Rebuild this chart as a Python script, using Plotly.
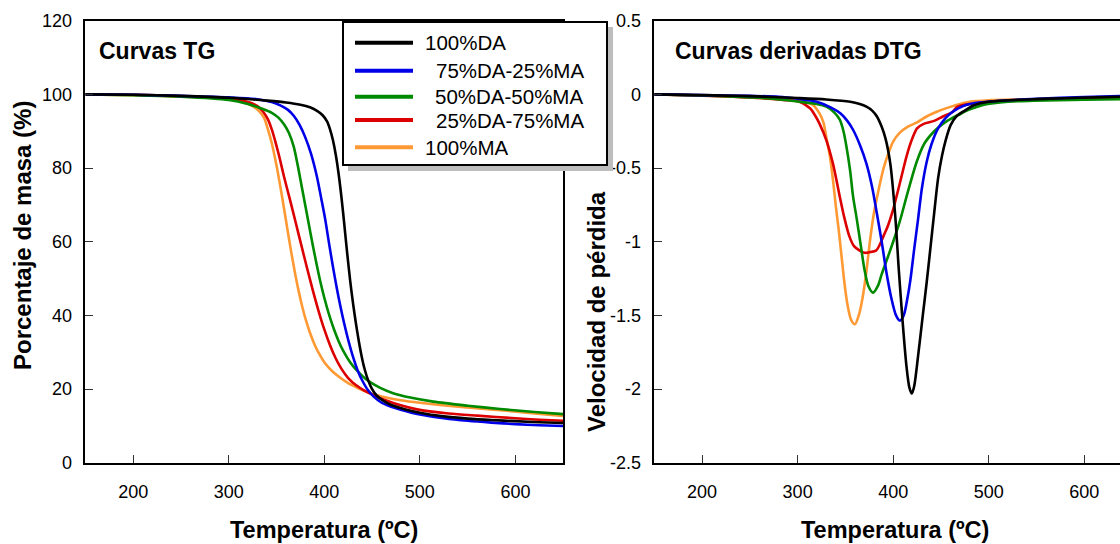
import plotly.graph_objects as go
from plotly.subplots import make_subplots

# ---------------- data ----------------
series_names = ["100%DA", "75%DA-25%MA", "50%DA-50%MA", "25%DA-75%MA", "100%MA"]
series_colors = ["#000000", "#0000e8", "#008a00", "#dd0000", "#ff9933"]

# TG curves: temperature (ºC) and mass percentage (%)
tg_t_da100 = [150, 200, 250, 300, 340, 360, 375, 385, 392, 398, 403, 406, 409, 412, 415, 418, 421,
              424, 427, 430, 433, 436, 439, 442, 446, 450, 455, 462, 470, 485, 500, 525, 550, 575,
              600, 625, 650]
tg_m_da100 = [100, 99.9, 99.6, 99.1, 98.3, 97.8, 97.2, 96.5, 95.6, 94.4, 92.6, 90.5, 87.6, 83.6, 78.4,
              72.0, 64.5, 56.8, 49.6, 43.4, 38.0, 33.2, 29.0, 25.6, 22.3, 20.0, 18.2, 16.8, 15.7,
              14.5, 13.6, 12.6, 12.0, 11.6, 11.3, 11.0, 10.8]

tg_t_da75 = [150, 200, 250, 300, 330, 345, 355, 362, 368, 374, 380, 386, 392, 397, 401, 405, 409,
             413, 417, 421, 425, 430, 435, 440, 446, 452, 460, 470, 480, 500, 525, 550, 575, 600,
             625, 650]
tg_m_da75 = [100, 99.9, 99.6, 99.2, 98.7, 97.9, 96.9, 95.8, 94.2, 91.8, 88.4, 84.0, 78.0, 71.5, 66,
             59.5, 53.3, 47.5, 42.3, 37.6, 33.4, 28.8, 25.0, 22.2, 19.6, 17.9, 16.3, 15.2, 14.4,
             13.1, 12.1, 11.4, 10.9, 10.5, 10.2, 10.0]

tg_t_da50 = [150, 200, 250, 300, 320, 335, 345, 352, 358, 363, 368, 372, 376, 380, 384, 388, 392,
             396, 400, 405, 410, 415, 420, 427, 435, 444, 458, 472, 490, 514, 550, 584, 620, 650]
tg_m_da50 = [100, 99.8, 99.4, 98.5, 97.4, 96.1, 95.0, 93.7, 91.8, 89.5, 85.8, 81.0, 75.5, 70.0, 64.5,
             59.0, 53.8, 49.0, 44.8, 40.2, 36.3, 33.0, 30.3, 27.3, 24.8, 22.6, 20.4, 18.9, 17.7, 16.6,
             15.5, 14.6, 13.8, 13.2]

tg_t_da25 = [150, 200, 250, 290, 310, 322, 330, 336, 341, 345, 349, 353, 358, 364, 370, 376, 382,
             388, 394, 400, 406, 412, 418, 425, 433, 442, 452, 462, 480, 497, 530, 560, 600, 625, 650]
tg_m_da25 = [100, 99.9, 99.5, 99.0, 98.5, 97.8, 96.8, 95.3, 93.2, 90.5, 87.0, 83.0, 77.5, 71.5, 65.3,
             59.0, 52.8, 46.8, 41.2, 36.2, 31.9, 28.3, 25.5, 23.0, 21.1, 19.6, 18.3, 17.2, 15.6, 14.5,
             13.4, 12.8, 12.1, 11.7, 11.4]

tg_t_ma100 = [150, 200, 250, 280, 300, 315, 325, 332, 337, 341, 345, 349, 353, 357, 361, 365, 369,
              373, 377, 381, 385, 390, 395, 400, 407, 415, 425, 435, 445, 460, 480, 500, 540, 584,
              620, 650]
tg_m_ma100 = [100, 99.8, 99.4, 99.1, 98.7, 97.9, 96.8, 95.4, 93.6, 90.5, 86.8, 82.0, 76.5, 70.4, 64.0,
              57.8, 52.0, 46.8, 42.3, 38.5, 35.3, 32.0, 29.4, 27.3, 25.2, 23.4, 21.6, 20.3, 19.2, 18.0,
              17.0, 16.3, 15.2, 14.3, 13.4, 12.7]

# DTG curves: temperature (ºC) and mass loss rate
dtg_t_da100 = [150, 200, 250, 300, 330, 355, 365, 372, 378, 383, 388, 392, 397, 402, 406, 410, 414,
               417, 419.5, 422, 426, 431, 435, 440, 443, 447, 451, 455, 460, 466, 475, 484, 500, 520,
               550, 580, 610, 638]
dtg_v_da100 = [0, -0.005, -0.012, -0.025, -0.035, -0.05, -0.065, -0.083, -0.11, -0.15, -0.22, -0.3,
               -0.47, -0.81, -1.2, -1.55, -1.85, -1.99, -2.03, -1.98, -1.78, -1.5, -1.28, -0.98, -0.8,
               -0.57, -0.42, -0.31, -0.21, -0.15, -0.11, -0.075, -0.05, -0.04, -0.032, -0.026, -0.02,
               -0.016]

dtg_t_da75 = [150, 200, 250, 280, 300, 320, 335, 345, 352, 358, 365, 372, 378, 383, 388, 393, 398,
              403, 407, 411, 415, 418, 422, 426, 430, 435, 440, 447, 455, 460, 468, 477, 490, 512,
              550, 600, 638]
dtg_v_da75 = [0, -0.005, -0.01, -0.016, -0.03, -0.05, -0.09, -0.13, -0.18, -0.24, -0.34, -0.47,
              -0.63, -0.81, -1.0, -1.21, -1.38, -1.5, -1.535, -1.5, -1.38, -1.26, -1.05, -0.85,
              -0.64, -0.46, -0.34, -0.23, -0.16, -0.13, -0.095, -0.07, -0.055, -0.043, -0.03,
              -0.018, -0.011]

dtg_t_da50 = [150, 200, 250, 268, 300, 320, 330, 338, 344, 348, 351, 355, 358, 362, 366, 370, 374,
              379, 384, 388, 393, 400, 407, 415, 425, 433, 443, 452, 462, 470, 477, 485, 494, 520,
              546, 600, 638]
dtg_v_da50 = [0, -0.008, -0.02, -0.026, -0.048, -0.065, -0.083, -0.12, -0.17, -0.25, -0.35, -0.52,
              -0.69, -0.85, -1.02, -1.19, -1.3, -1.345, -1.3, -1.22, -1.13, -1.0, -0.86, -0.67,
              -0.45, -0.33, -0.25, -0.2, -0.16, -0.135, -0.11, -0.09, -0.072, -0.05, -0.043,
              -0.036, -0.033]

dtg_t_da25 = [150, 200, 250, 285, 302, 313, 318, 323, 330, 337, 344, 349, 354, 359, 365, 370, 376,
              382, 386, 390, 394, 400, 404, 409, 414, 420, 425, 432, 443, 452, 462, 467, 480, 494,
              520, 560, 600, 638]
dtg_v_da25 = [0, -0.008, -0.02, -0.038, -0.05, -0.094, -0.14, -0.2, -0.31, -0.47, -0.69, -0.84,
              -0.96, -1.03, -1.06, -1.075, -1.07, -1.06, -1.02, -0.96, -0.9, -0.78, -0.68, -0.55,
              -0.42, -0.3, -0.23, -0.2, -0.18, -0.15, -0.12, -0.085, -0.065, -0.056, -0.045,
              -0.035, -0.025, -0.02]

dtg_t_ma100 = [150, 200, 250, 268, 302, 316, 323, 327, 330, 334, 337, 340, 343, 346, 349, 352, 356,
               360, 364, 368, 372, 376, 380, 385, 390, 395, 400, 407, 415, 425, 435, 445, 455, 467,
               480, 500, 530, 580, 638]
dtg_v_ma100 = [0, -0.008, -0.02, -0.026, -0.043, -0.072, -0.13, -0.19, -0.29, -0.43, -0.58, -0.76,
               -0.92, -1.1, -1.28, -1.42, -1.53, -1.56, -1.5, -1.38, -1.2, -0.98, -0.8, -0.64, -0.5,
               -0.4, -0.32, -0.26, -0.22, -0.19, -0.15, -0.12, -0.095, -0.07, -0.05, -0.04, -0.035,
               -0.03, -0.028]

tg_x = [tg_t_da100, tg_t_da75, tg_t_da50, tg_t_da25, tg_t_ma100]
tg_y = [tg_m_da100, tg_m_da75, tg_m_da50, tg_m_da25, tg_m_ma100]
dtg_x = [dtg_t_da100, dtg_t_da75, dtg_t_da50, dtg_t_da25, dtg_t_ma100]
dtg_y = [dtg_v_da100, dtg_v_da75, dtg_v_da50, dtg_v_da25, dtg_v_ma100]

x_ticks = [200, 300, 400, 500, 600]
tg_ticks = [0, 20, 40, 60, 80, 100, 120]
dtg_ticks = [0.5, 0, -0.5, -1, -1.5, -2, -2.5]
dtg_ticktext = ["0.5", "0", "-0.5", "-1", "-1.5", "-2", "-2.5"]

# ---------------- figure ----------------
W, H = 1120, 544
FONT = "Liberation Sans, Arial, sans-serif"


def px(x):
    return x / W


def py(y):
    return 1 - y / H


fig = make_subplots(rows=1, cols=2)

draw_order = [4, 3, 2, 1, 0]
for i in draw_order:
    fig.add_trace(go.Scatter(x=tg_x[i], y=tg_y[i], mode="lines", name=series_names[i],
                             line=dict(color=series_colors[i], width=2.6, shape="spline", smoothing=0.8),
                             showlegend=False), row=1, col=1)
    fig.add_trace(go.Scatter(x=dtg_x[i], y=dtg_y[i], mode="lines", name=series_names[i],
                             line=dict(color=series_colors[i], width=2.6, shape="spline", smoothing=0.8),
                             showlegend=False), row=1, col=2)

y_dom = [py(462.8), py(20.7)]
axis_common = dict(showgrid=False, zeroline=False, showline=True, linecolor="#000000", linewidth=1.5,
                   ticks="inside", ticklen=8, tickwidth=1.2, tickcolor="#333333", automargin=False,
                   tickfont=dict(family=FONT, size=18, color="#000000"))

fig.update_xaxes(axis_common, row=1, col=1, domain=[px(85.4), px(563.2)], range=[150, 650],
                 tickvals=x_ticks, mirror=True, ticklabelstandoff=12)
fig.update_xaxes(axis_common, row=1, col=2, domain=[px(654.3), 1.0], range=[150, 637.4],
                 tickvals=x_ticks, mirror=True, ticklabelstandoff=12)
fig.update_yaxes(axis_common, row=1, col=1, domain=y_dom, range=[0, 120], tickvals=tg_ticks,
                 mirror=True, ticklabelstandoff=8)
fig.update_yaxes(axis_common, row=1, col=2, domain=y_dom, range=[-2.5, 0.5], tickvals=dtg_ticks,
                 ticktext=dtg_ticktext, mirror=False, ticklabelstandoff=8)

annotations = [
    dict(text="<b>Curvas TG</b>", x=px(97), y=py(51), xanchor="left", yanchor="middle", size=23),
    dict(text="<b>Curvas derivadas DTG</b>", x=px(673), y=py(51), xanchor="left", yanchor="middle", size=23),
    dict(text="<b>Temperatura (ºC)</b>", x=px(324), y=py(530), xanchor="center", yanchor="middle", size=23.5),
    dict(text="<b>Temperatura (ºC)</b>", x=px(895), y=py(530), xanchor="center", yanchor="middle", size=23.5),
    dict(text="<b>Porcentaje de masa (%)</b>", x=px(22), y=py(236), xanchor="center", yanchor="middle",
         size=24, textangle=-90),
    dict(text="<b>Velocidad de pérdida</b>", x=px(596), y=py(312), xanchor="center", yanchor="middle",
         size=24, textangle=-90),
]
for a in annotations:
    size = a.pop("size")
    fig.add_annotation(xref="paper", yref="paper", showarrow=False,
                       font=dict(family=FONT, size=size, color="#000000"), **a)

# legend box with drop shadow
fig.add_shape(type="rect", xref="paper", yref="paper", x0=px(348), x1=px(613), y0=py(171), y1=py(27),
              fillcolor="#bdbdbd", line=dict(width=0), layer="above")
fig.add_shape(type="rect", xref="paper", yref="paper", x0=px(343), x1=px(607), y0=py(165), y1=py(22),
              fillcolor="#ffffff", line=dict(color="#000000", width=2), layer="above")

legend_rows_y = [42.7, 70.7, 96.7, 120.0, 147.3]
legend_text_x = [423, 434, 433, 434, 423]
for i, name in enumerate(series_names):
    yy = py(legend_rows_y[i])
    fig.add_shape(type="line", xref="paper", yref="paper", x0=px(355), x1=px(413), y0=yy, y1=yy,
                  line=dict(color=series_colors[i], width=4), layer="above")
    fig.add_annotation(xref="paper", yref="paper", x=px(legend_text_x[i]), y=yy, text=name,
                       showarrow=False, xanchor="left", yanchor="middle",
                       font=dict(family=FONT, size=20.5, color="#000000"))

fig.update_layout(width=W, height=H, autosize=False, margin=dict(l=0, r=0, t=0, b=0, pad=0),
                  paper_bgcolor="#ffffff", plot_bgcolor="#ffffff", showlegend=False)

fig.write_html("out.html")
